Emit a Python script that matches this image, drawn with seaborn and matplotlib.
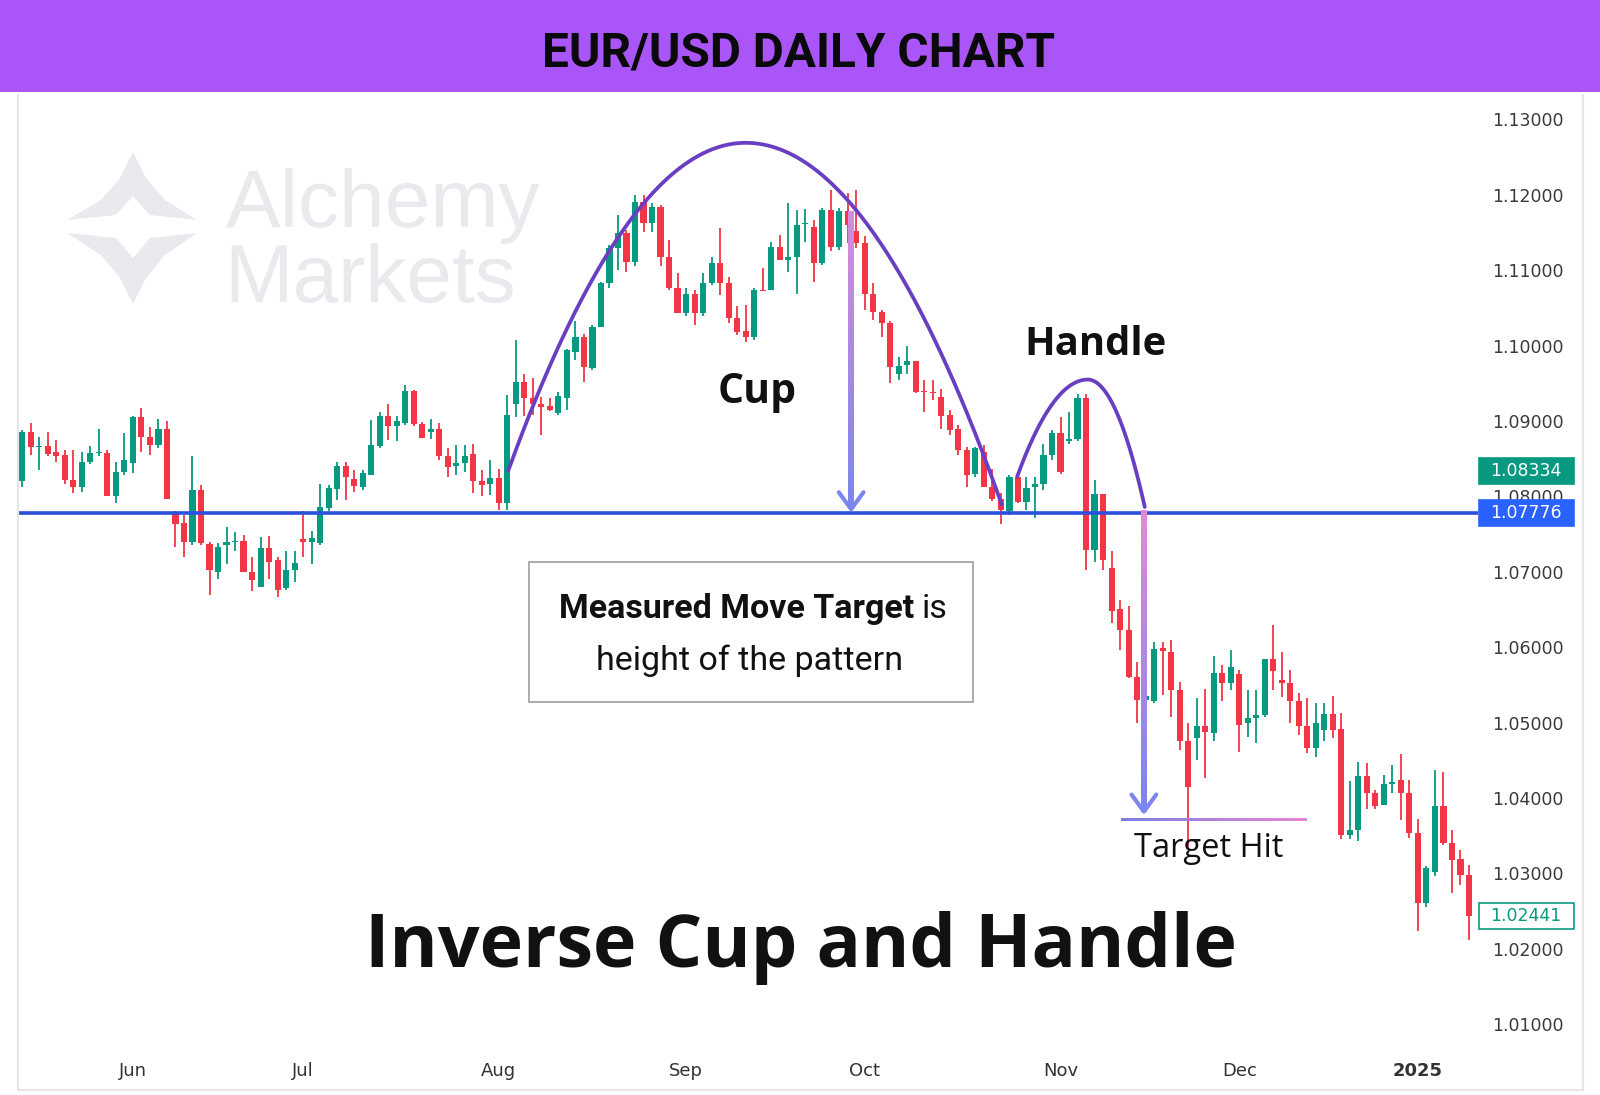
import numpy as np
import pandas as pd
import seaborn as sns
import matplotlib.pyplot as plt
import matplotlib.colors as mcolors
from matplotlib import font_manager, transforms
from matplotlib.patches import Rectangle, Polygon
from matplotlib.collections import LineCollection

### data: EUR/USD daily candles (TradingView feed skips Dec 25 and Jan 1)
dates = pd.bdate_range("2024-05-15", "2025-01-10", freq="C",
                       holidays=["2024-12-25", "2025-01-01"])

opens = [1.0820, 1.0886, 1.0866, 1.0867, 1.0859, 1.0855, 1.0822, 1.0813, 1.0846, 1.0858,
         1.0858, 1.0801, 1.0832, 1.0844, 1.0905, 1.0879, 1.0868, 1.0889, 1.0777, 1.0765,
         1.0740, 1.0808, 1.0737, 1.0700, 1.0735, 1.0740, 1.0741, 1.0700, 1.0680, 1.0731,
         1.0716, 1.0678, 1.0703, 1.0743, 1.0739, 1.0738, 1.0784, 1.0810, 1.0840, 1.0823,
         1.0813, 1.0829, 1.0867, 1.0906, 1.0893, 1.0898, 1.0940, 1.0896, 1.0886, 1.0890,
         1.0853, 1.0840, 1.0844, 1.0856, 1.0821, 1.0817, 1.0824, 1.0791, 1.0922, 1.0952,
         1.0930, 1.0922, 1.0920, 1.0911, 1.0930, 1.0992, 1.1012, 1.0970, 1.1025, 1.1083,
         1.1129, 1.1149, 1.1111, 1.1191, 1.1162, 1.1184, 1.1118, 1.1076, 1.1043, 1.1069,
         1.1043, 1.1083, 1.1109, 1.1083, 1.1036, 1.1019, 1.1012, 1.1074, 1.1074, 1.1131,
         1.1114, 1.1117, 1.1161, 1.1157, 1.1109, 1.1180, 1.1131, 1.1178, 1.1152, 1.1136,
         1.1069, 1.1045, 1.1030, 1.0962, 1.0974, 1.0979, 1.0939, 1.0938, 1.0932, 1.0908,
         1.0890, 1.0861, 1.0830, 1.0859, 1.0813, 1.0796, 1.0780, 1.0826, 1.0793, 1.0813,
         1.0817, 1.0855, 1.0884, 1.0874, 1.0876, 1.0930, 1.0729, 1.0803, 1.0705, 1.0650,
         1.0623, 1.0561, 1.0530, 1.0528, 1.0599, 1.0594, 1.0543, 1.0475, 1.0480, 1.0495,
         1.0486, 1.0566, 1.0552, 1.0565, 1.0499, 1.0506, 1.0510, 1.0585, 1.0557, 1.0553,
         1.0528, 1.0495, 1.0466, 1.0490, 1.0511, 1.0491, 1.0351, 1.0358, 1.0429, 1.0406,
         1.0391, 1.0419, 1.0424, 1.0407, 1.0354, 1.0261, 1.0302, 1.0390, 1.0340, 1.0319,
         1.0298]
highs = [1.0888, 1.0897, 1.0879, 1.0885, 1.0875, 1.0862, 1.0862, 1.0859, 1.0867, 1.0889,
         1.0862, 1.0846, 1.0884, 1.0906, 1.0917, 1.0892, 1.0902, 1.0900, 1.0781, 1.0775,
         1.0853, 1.0815, 1.0740, 1.0738, 1.0760, 1.0753, 1.0749, 1.0720, 1.0746, 1.0747,
         1.0720, 1.0727, 1.0727, 1.0780, 1.0754, 1.0817, 1.0815, 1.0846, 1.0846, 1.0835,
         1.0835, 1.0901, 1.0912, 1.0923, 1.0906, 1.0948, 1.0941, 1.0899, 1.0903, 1.0897,
         1.0864, 1.0868, 1.0868, 1.0870, 1.0835, 1.0848, 1.0837, 1.0935, 1.1008, 1.0963,
         1.0957, 1.0932, 1.0930, 1.0939, 1.0996, 1.1032, 1.1016, 1.1027, 1.1085, 1.1134,
         1.1173, 1.1153, 1.1200, 1.1200, 1.1189, 1.1187, 1.1140, 1.1096, 1.1076, 1.1074,
         1.1096, 1.1118, 1.1156, 1.1091, 1.1052, 1.1054, 1.1076, 1.1103, 1.1138, 1.1147,
         1.1189, 1.1180, 1.1181, 1.1166, 1.1182, 1.1206, 1.1182, 1.1202, 1.1206, 1.1145,
         1.1083, 1.1047, 1.1032, 1.0985, 1.1000, 1.0979, 1.0955, 1.0955, 1.0943, 1.0914,
         1.0895, 1.0866, 1.0866, 1.0868, 1.0837, 1.0804, 1.0828, 1.0830, 1.0826, 1.0826,
         1.0870, 1.0888, 1.0905, 1.0912, 1.0936, 1.0936, 1.0822, 1.0803, 1.0727, 1.0663,
         1.0654, 1.0581, 1.0545, 1.0607, 1.0607, 1.0610, 1.0554, 1.0499, 1.0532, 1.0545,
         1.0588, 1.0577, 1.0596, 1.0570, 1.0543, 1.0543, 1.0585, 1.0629, 1.0594, 1.0570,
         1.0539, 1.0532, 1.0526, 1.0526, 1.0535, 1.0513, 1.0422, 1.0448, 1.0446, 1.0410,
         1.0431, 1.0444, 1.0458, 1.0424, 1.0372, 1.0310, 1.0437, 1.0435, 1.0358, 1.0331,
         1.0311]
lows = [1.0813, 1.0855, 1.0835, 1.0853, 1.0846, 1.0817, 1.0804, 1.0806, 1.0843, 1.0853,
        1.0800, 1.0791, 1.0828, 1.0831, 1.0859, 1.0855, 1.0864, 1.0797, 1.0733, 1.0720,
        1.0736, 1.0736, 1.0669, 1.0690, 1.0711, 1.0727, 1.0700, 1.0674, 1.0680, 1.0691,
        1.0667, 1.0676, 1.0687, 1.0720, 1.0711, 1.0736, 1.0780, 1.0795, 1.0795, 1.0806,
        1.0809, 1.0828, 1.0864, 1.0875, 1.0873, 1.0895, 1.0893, 1.0877, 1.0876, 1.0848,
        1.0826, 1.0828, 1.0833, 1.0804, 1.0800, 1.0802, 1.0782, 1.0782, 1.0905, 1.0906,
        1.0908, 1.0881, 1.0913, 1.0908, 1.0915, 1.0981, 1.0952, 1.0968, 1.1025, 1.1076,
        1.1100, 1.1098, 1.1105, 1.1151, 1.1151, 1.1105, 1.1074, 1.1043, 1.1039, 1.1027,
        1.1039, 1.1081, 1.1067, 1.1030, 1.1014, 1.1005, 1.1008, 1.1072, 1.1074, 1.1113,
        1.1098, 1.1069, 1.1138, 1.1085, 1.1107, 1.1125, 1.1127, 1.1136, 1.1129, 1.1047,
        1.1034, 1.1012, 1.0950, 1.0955, 1.0963, 1.0937, 1.0912, 1.0928, 1.0890, 1.0881,
        1.0855, 1.0813, 1.0826, 1.0813, 1.0794, 1.0764, 1.0775, 1.0791, 1.0782, 1.0771,
        1.0808, 1.0848, 1.0830, 1.0869, 1.0874, 1.0702, 1.0713, 1.0702, 1.0632, 1.0596,
        1.0559, 1.0499, 1.0520, 1.0526, 1.0537, 1.0508, 1.0464, 1.0332, 1.0451, 1.0426,
        1.0475, 1.0528, 1.0543, 1.0461, 1.0481, 1.0473, 1.0508, 1.0543, 1.0534, 1.0499,
        1.0484, 1.0459, 1.0455, 1.0475, 1.0479, 1.0345, 1.0345, 1.0343, 1.0386, 1.0386,
        1.0391, 1.0406, 1.0371, 1.0347, 1.0223, 1.0256, 1.0296, 1.0338, 1.0274, 1.0285,
        1.0212]
closes = [1.0886, 1.0866, 1.0867, 1.0856, 1.0853, 1.0822, 1.0813, 1.0846, 1.0857, 1.0858,
          1.0801, 1.0832, 1.0848, 1.0905, 1.0879, 1.0868, 1.0889, 1.0797, 1.0764, 1.0740,
          1.0808, 1.0738, 1.0702, 1.0733, 1.0740, 1.0741, 1.0700, 1.0689, 1.0732, 1.0713,
          1.0676, 1.0703, 1.0712, 1.0739, 1.0745, 1.0786, 1.0811, 1.0840, 1.0826, 1.0814,
          1.0831, 1.0868, 1.0906, 1.0893, 1.0900, 1.0940, 1.0896, 1.0878, 1.0890, 1.0853,
          1.0839, 1.0844, 1.0854, 1.0821, 1.0815, 1.0824, 1.0791, 1.0908, 1.0952, 1.0930,
          1.0922, 1.0919, 1.0915, 1.0933, 1.0994, 1.1012, 1.0972, 1.1025, 1.1083, 1.1129,
          1.1149, 1.1111, 1.1191, 1.1162, 1.1184, 1.1118, 1.1076, 1.1043, 1.1069, 1.1043,
          1.1083, 1.1109, 1.1083, 1.1036, 1.1018, 1.1012, 1.1074, 1.1072, 1.1131, 1.1113,
          1.1118, 1.1160, 1.1162, 1.1109, 1.1180, 1.1131, 1.1178, 1.1160, 1.1136, 1.1069,
          1.1045, 1.1030, 1.0972, 1.0973, 1.0979, 1.0939, 1.0938, 1.0937, 1.0907, 1.0888,
          1.0861, 1.0828, 1.0864, 1.0813, 1.0796, 1.0782, 1.0826, 1.0793, 1.0811, 1.0817,
          1.0855, 1.0884, 1.0833, 1.0876, 1.0930, 1.0729, 1.0803, 1.0716, 1.0648, 1.0623,
          1.0561, 1.0530, 1.0535, 1.0597, 1.0595, 1.0543, 1.0475, 1.0415, 1.0495, 1.0488,
          1.0566, 1.0552, 1.0574, 1.0497, 1.0506, 1.0510, 1.0585, 1.0568, 1.0553, 1.0528,
          1.0495, 1.0466, 1.0499, 1.0511, 1.0490, 1.0351, 1.0358, 1.0429, 1.0406, 1.0390,
          1.0419, 1.0421, 1.0407, 1.0353, 1.0261, 1.0307, 1.0389, 1.0340, 1.0318, 1.0298,
          1.02441]

neckline = 1.07776
marker_price = 1.08334
last_price = 1.02441
target_price = 1.0372
price_ticks = [1.01, 1.02, 1.03, 1.04, 1.05, 1.06, 1.07, 1.08, 1.09, 1.10, 1.11, 1.12, 1.13]

df = pd.DataFrame({"date": dates, "open": opens, "high": highs, "low": lows, "close": closes})
df["x"] = np.arange(len(df))
df["up"] = df["close"] >= df["open"]

### fonts
avail = {f.name for f in font_manager.fontManager.ttflist}
narrow = "Liberation Sans Narrow" if "Liberation Sans Narrow" in avail else "Roboto"
bold_font = "Open Sans" if "Open Sans" in avail else "DejaVu Sans"

sns.set_style("white")
plt.rcParams["font.family"] = ["DejaVu Sans"]

W, H = 1600, 1095
fig = plt.figure(figsize=(W / 100, H / 100), dpi=100)
fig.patch.set_facecolor("white")


def fx(px):
    return px / W


def fy(py):
    return 1 - py / H


ax = fig.add_axes([fx(18), fy(1040), (1478 - 18) / W, (1040 - 95) / H])
ax.set_xlim(-0.505, 171.06)
ax.set_ylim(1.0079, 1.13324)

GREEN = "#089981"
RED = "#F23645"
colors = np.where(df["up"], GREEN, RED)

### candles
ax.vlines(df["x"], df["low"], df["high"], colors=colors, lw=1.3, zorder=2)
body_low = np.minimum(df["open"], df["close"])
body_h = np.maximum((df["close"] - df["open"]).abs(), 0.00015)
ax.bar(df["x"], body_h, bottom=body_low, width=0.72, color=colors, linewidth=0, zorder=3)

### neckline
ax.axhline(neckline, color="#2B50DC", lw=2.6, zorder=4)


def arch(x0, y0, xp, yp, x1, y1, n=300):
    xs = np.linspace(x0, x1, n)
    a_l = (yp - y0) / (xp - x0) ** 2
    a_r = (yp - y1) / (x1 - xp) ** 2
    ys = np.where(xs < xp, yp - a_l * (xs - xp) ** 2, yp - a_r * (xs - xp) ** 2)
    return xs, ys


cup_x, cup_y = arch(57.1, 1.0834, 85.0, 1.1269, 115.1, 1.0789)
hdl_x, hdl_y = arch(116.9, 1.0826, 125.2, 1.0955, 131.9, 1.0786)
sns.lineplot(x=cup_x, y=cup_y, sort=False, estimator=None, color="#6A3EC2", lw=2.7,
             ax=ax, zorder=5)
sns.lineplot(x=hdl_x, y=hdl_y, sort=False, estimator=None, color="#6A3EC2", lw=2.7,
             ax=ax, zorder=5)


def gradient_line(xs, ys, c0, c1, lw):
    pts = np.column_stack([xs, ys])
    segs = np.stack([pts[:-1], pts[1:]], axis=1)
    a = np.array(mcolors.to_rgb(c0))
    b = np.array(mcolors.to_rgb(c1))
    t = np.linspace(0, 1, len(segs))[:, None]
    lc = LineCollection(segs, colors=a + (b - a) * t, linewidths=lw, zorder=5,
                        capstyle="projecting", antialiaseds=False)
    ax.add_collection(lc)


def down_arrow(x, top, tip, c_top, c_bot):
    ys = np.linspace(top, tip + 0.0004, 40)
    gradient_line(np.full_like(ys, x), ys, c_top, c_bot, 3.2)
    ax.plot([x - 1.45, x, x + 1.45], [tip + 0.00225, tip, tip + 0.00225],
            color=c_bot, lw=3.0, solid_capstyle="round", solid_joinstyle="round", zorder=6)


down_arrow(97.4, 1.1175, 1.0783, "#D58CDA", "#7C86EE")
down_arrow(131.8, neckline, 1.0382, "#E18AD6", "#7C86EE")

tx = np.linspace(129.2, 150.7, 25)
gradient_line(tx, np.full_like(tx, target_price), "#7C7FE6", "#E585D2", 2.0)

### axes styling
for s in ax.spines.values():
    s.set_visible(False)
ax.yaxis.tick_right()
ax.set_yticks(price_ticks)
ax.set_yticklabels([f"{v:.5f}" for v in price_ticks])
ax.tick_params(axis="y", length=0, pad=10, labelsize=12.5, labelcolor="#3a3a3a")

month_first = df[df["date"] >= "2024-06-01"].groupby(df["date"].dt.to_period("M"))["x"].first()
month_labels = [p.strftime("%b") if p.month != 1 else str(p.year) for p in month_first.index]
ax.set_xticks(month_first.values)
ax.set_xticklabels(month_labels)
ax.tick_params(axis="x", length=0, pad=16, labelsize=13, labelcolor="#333333")
for lab in ax.get_xticklabels():
    if lab.get_text() == "2025":
        lab.set_fontweight("bold")
ax.set_xlabel("")
ax.set_ylabel("")

### watermark
ax.text(fx(226), fy(226.5), "Alchemy", transform=fig.transFigure, fontsize=59,
        family="Liberation Sans", color="#EAEAEE", va="baseline", zorder=0.5)
ax.text(fx(224), fy(302), "Markets", transform=fig.transFigure, fontsize=59,
        family="Liberation Sans", color="#EAEAEE", va="baseline", zorder=0.5)
logo_top = [(133, 152), (146, 178), (165, 200), (197, 220), (150, 215), (133, 196),
            (116, 215), (67, 220), (101, 200), (120, 178)]
logo_bot = [(67, 233), (116, 238), (133, 258), (150, 238), (197, 233), (165, 255),
            (146, 278), (133, 304), (120, 278), (101, 255)]
for pts in (logo_top, logo_bot):
    ax.add_patch(Polygon([(fx(px), fy(py)) for px, py in pts], closed=True,
                         transform=fig.transFigure, facecolor="#EAEAEE", edgecolor="none",
                         zorder=0.5))

### right-axis price labels
trans = transforms.blended_transform_factory(fig.transFigure, ax.transData)
box_h = 26 / 7540
for price, face, edge, txt in [(marker_price, GREEN, GREEN, "white"),
                                (neckline, "#2962FF", "#2962FF", "white"),
                                (last_price, "white", GREEN, GREEN)]:
    fig.add_artist(Rectangle((fx(1478.6), price - box_h / 2), (1573.5 - 1478.6) / W, box_h,
                             transform=trans, facecolor=face, edgecolor=edge, lw=1.2))
    fig.text(fx(1526), price, f"{price:.5f}", transform=trans, ha="center", va="center",
             color=txt, fontsize=12.5)

### banner and titles
fig.add_artist(Rectangle((0, fy(92)), 1, 92 / H, transform=fig.transFigure,
                         facecolor="#AA55F7", edgecolor="none", zorder=0))
fig.text(fx(799), fy(66), "EUR/USD DAILY CHART", ha="center", va="baseline",
         fontsize=34.5, fontweight="bold", family=narrow, color="#0a0a0a")

fig.text(fx(757), fy(403), "Cup", ha="center", va="baseline", fontsize=29.5,
         fontweight="bold", family=bold_font, color="#111111")
fig.text(fx(1095), fy(355), "Handle", ha="center", va="baseline", fontsize=28.8,
         fontweight="bold", family=bold_font, color="#111111")
fig.text(fx(801), fy(967), "Inverse Cup and Handle", ha="center", va="baseline",
         fontsize=53, fontweight="bold", family=bold_font, color="#111111")
fig.text(fx(1209), fy(857), "Target Hit", ha="center", va="baseline", fontsize=23.5,
         family=bold_font, color="#111111")

fig.add_artist(Rectangle((fx(528.6), fy(702)), (972.5 - 528.6) / W, (702 - 562) / H,
                         transform=fig.transFigure, facecolor="white", edgecolor="#9E9E9E",
                         lw=1.2, zorder=2))
fig.text(fx(914), fy(618), "Measured Move Target", ha="right", va="baseline", fontsize=24.5,
         fontweight="bold", family=narrow, color="#111111")
fig.text(fx(922), fy(618), "is", ha="left", va="baseline", fontsize=24.5,
         family=narrow, color="#111111")
fig.text(fx(750), fy(670), "height of the pattern", ha="center", va="baseline", fontsize=24.5,
         family=narrow, color="#111111")

### screenshot frame
for (x0, y0, x1, y1) in [(18, 95, 18, 1090), (1583, 95, 1583, 1090), (18, 1090, 1583, 1090)]:
    fig.add_artist(plt.Line2D([fx(x0), fx(x1)], [fy(y0), fy(y1)], transform=fig.transFigure,
                              color="#E6E6E6", lw=1.5))

fig.savefig("out.png", dpi=100)
